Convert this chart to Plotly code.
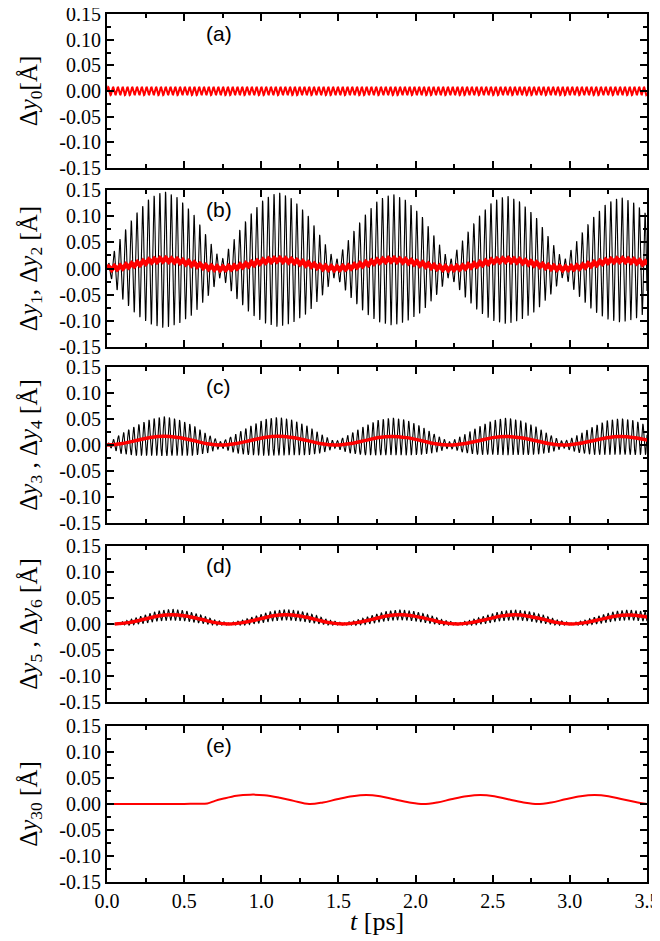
import numpy as np
import plotly.graph_objects as go

# ---------------- axis ticks / labels ----------------
x_ticks = [0.0, 0.5, 1.0, 1.5, 2.0, 2.5, 3.0, 3.5]
x_tick_text = ["0.0", "0.5", "1.0", "1.5", "2.0", "2.5", "3.0", "3.5"]
y_ticks = [-0.15, -0.10, -0.05, 0.0, 0.05, 0.10, 0.15]
y_tick_text = ["-0.15", "-0.10", "-0.05", "0.00", "0.05", "0.10", "0.15"]

panel_labels = ["(a)", "(b)", "(c)", "(d)", "(e)"]
y_titles = [
    "Δ<i>y</i><sub>0</sub>[Å]",
    "Δ<i>y</i><sub>1</sub>, Δ<i>y</i><sub>2</sub> [Å]",
    "Δ<i>y</i><sub>3</sub> , Δ<i>y</i><sub>4</sub> [Å]",
    "Δ<i>y</i><sub>5</sub> , Δ<i>y</i><sub>6</sub> [Å]",
    "Δ<i>y</i><sub>30</sub> [Å]",
]
x_title = "<i>t</i> [ps]"

# ---------------- data ----------------
# panel (a): uniform fast oscillation of Δy0
a_amp = 0.008          # Å
a_period = 0.031       # ps

# envelope knots (ps), every 1/8 of the beat period
t_knot = [0.00, 0.09, 0.19, 0.28, 0.37, 0.46, 0.56, 0.65, 0.74, 0.83, 0.93, 1.02, 1.11,
          1.20, 1.30, 1.39, 1.48, 1.57, 1.67, 1.76, 1.85, 1.94, 2.04, 2.13, 2.22, 2.31,
          2.41, 2.50, 2.59, 2.68, 2.78, 2.87, 2.96, 3.05, 3.15, 3.24, 3.33, 3.42, 3.52]

# panel (b): slow part (red, Δy2) and fast half-amplitude of Δy1 (black)
b_slow = [0.000, 0.0025, 0.0085, 0.0145, 0.0170, 0.0145, 0.0085, 0.0025, 0.000,
          0.0025, 0.0085, 0.0145, 0.0170, 0.0145, 0.0085, 0.0025, 0.000,
          0.0025, 0.0085, 0.0145, 0.0168, 0.0143, 0.0084, 0.0025, 0.000,
          0.0025, 0.0084, 0.0143, 0.0166, 0.0142, 0.0083, 0.0024, 0.000,
          0.0024, 0.0083, 0.0141, 0.0165, 0.0141, 0.0083]
b_amp = [0.004, 0.058, 0.097, 0.121, 0.131, 0.121, 0.096, 0.057, 0.014,
         0.057, 0.095, 0.119, 0.129, 0.119, 0.094, 0.056, 0.014,
         0.055, 0.093, 0.117, 0.126, 0.116, 0.092, 0.055, 0.014,
         0.054, 0.091, 0.114, 0.123, 0.113, 0.090, 0.054, 0.014,
         0.053, 0.089, 0.111, 0.120, 0.111, 0.089]
b_period = 0.037
b_ripple = 0.0035

# panel (c)
c_slow = [0.000, 0.0025, 0.0085, 0.0145, 0.0170, 0.0145, 0.0085, 0.0025, 0.000,
          0.0025, 0.0085, 0.0145, 0.0168, 0.0144, 0.0084, 0.0025, 0.000,
          0.0025, 0.0084, 0.0143, 0.0166, 0.0142, 0.0083, 0.0024, 0.000,
          0.0024, 0.0083, 0.0142, 0.0165, 0.0141, 0.0083, 0.0024, 0.000,
          0.0024, 0.0083, 0.0141, 0.0164, 0.0140, 0.0082]
c_amp = [0.002, 0.019, 0.029, 0.035, 0.038, 0.035, 0.029, 0.018, 0.006,
         0.018, 0.028, 0.035, 0.037, 0.034, 0.028, 0.018, 0.006,
         0.018, 0.028, 0.034, 0.036, 0.034, 0.027, 0.017, 0.006,
         0.017, 0.027, 0.033, 0.036, 0.033, 0.027, 0.017, 0.006,
         0.017, 0.027, 0.033, 0.035, 0.033, 0.027]
c_period = 0.033

# panel (d) (beat slightly delayed)
t_knot_d = [0.05, 0.14, 0.24, 0.33, 0.42, 0.51, 0.61, 0.70, 0.79, 0.88, 0.98, 1.07, 1.16,
            1.25, 1.35, 1.44, 1.53, 1.62, 1.72, 1.81, 1.90, 1.99, 2.09, 2.18, 2.27, 2.36,
            2.46, 2.55, 2.64, 2.73, 2.83, 2.92, 3.01, 3.10, 3.20, 3.29, 3.38, 3.47, 3.57]
d_slow = [0.000, 0.0026, 0.0090, 0.0154, 0.0180, 0.0154, 0.0090, 0.0026, 0.000,
          0.0026, 0.0090, 0.0153, 0.0178, 0.0152, 0.0089, 0.0026, 0.000,
          0.0026, 0.0089, 0.0152, 0.0177, 0.0151, 0.0089, 0.0026, 0.000,
          0.0026, 0.0089, 0.0151, 0.0176, 0.0150, 0.0088, 0.0026, 0.000,
          0.0026, 0.0088, 0.0150, 0.0175, 0.0150, 0.0088]
d_amp = [0.001, 0.005, 0.008, 0.010, 0.011, 0.010, 0.008, 0.005, 0.002,
         0.005, 0.008, 0.010, 0.0105, 0.010, 0.008, 0.005, 0.002,
         0.005, 0.008, 0.0095, 0.010, 0.0095, 0.008, 0.005, 0.002,
         0.005, 0.008, 0.0095, 0.010, 0.0095, 0.008, 0.005, 0.002,
         0.005, 0.008, 0.0095, 0.010, 0.0095, 0.008]
d_period = 0.030

# panel (e): Δy30
e_t = [0.00, 0.50, 0.56, 0.65, 0.70, 0.75, 0.84, 0.93, 1.02, 1.12, 1.21, 1.31, 1.40, 1.49,
       1.59, 1.68, 1.77, 1.86, 1.96, 2.05, 2.14, 2.23, 2.33, 2.42, 2.51, 2.60, 2.70, 2.79,
       2.88, 2.97, 3.07, 3.16, 3.25, 3.34, 3.44, 3.50]
e_y = [0.000, 0.000, 0.0005, 0.001, 0.006, 0.010, 0.016, 0.018, 0.017, 0.012, 0.006, 0.000,
       0.003, 0.009, 0.015, 0.0175, 0.015, 0.009, 0.003, 0.000, 0.003, 0.009, 0.015, 0.0175,
       0.015, 0.009, 0.003, 0.000, 0.003, 0.009, 0.015, 0.0172, 0.015, 0.009, 0.003, 0.000]

# ---------------- build curves ----------------
t = np.linspace(0.0, 3.5, 3501)


def fast(tk, slow, amp, period):
    s = np.interp(t, tk, slow)
    A = np.interp(t, tk, amp)
    return s + A * np.sin(2 * np.pi * t / period)


ya = a_amp * np.sin(2 * np.pi * t / a_period)
yb_black = fast(t_knot, b_slow, b_amp, b_period)
yb_red = np.interp(t, t_knot, b_slow) + b_ripple * np.sin(2 * np.pi * t / b_period)
yc_black = fast(t_knot, c_slow, c_amp, c_period)
yd_black = fast(t_knot_d, d_slow, d_amp, d_period)

RED = "#ff0000"
fig = go.Figure()

traces = [
    (1, t, ya, RED, 2.0, "linear"),
    (2, t, yb_black, "black", 1.1, "linear"),
    (2, t, yb_red, RED, 4.5, "linear"),
    (3, t, yc_black, "black", 1.1, "linear"),
    (3, t_knot, c_slow, RED, 3.5, "spline"),
    (4, t, yd_black, "black", 1.1, "linear"),
    (4, t_knot_d, d_slow, RED, 3.5, "spline"),
    (5, e_t, e_y, RED, 2.0, "spline"),
]
for row, xx, yy, col, w, shape in traces:
    sfx = "" if row == 1 else str(row)
    fig.add_trace(go.Scatter(x=xx, y=yy, mode="lines",
                             line=dict(color=col, width=w, shape=shape),
                             xaxis="x" + sfx, yaxis="y" + sfx, showlegend=False))

domains = [(0.8226, 1.0), (0.6164, 0.7972), (0.4136, 0.5933), (0.2074, 0.3871), (0.0, 0.1797)]

serif = "Liberation Serif"
# the page body adds an 8px offset, so the figure is 8px smaller and margins compensate
layout = dict(
    width=652, height=933,
    margin=dict(l=99, r=13, t=6, b=59, autoexpand=False),
    paper_bgcolor="white", plot_bgcolor="white",
    font=dict(family=serif, size=20, color="black"),
)
annotations = []
for i in range(5):
    sfx = "" if i == 0 else str(i + 1)
    xa = dict(
        domain=[0, 1], range=[0, 3.5], anchor="y" + sfx, automargin=False,
        tickvals=x_ticks, ticktext=x_tick_text, showticklabels=(i == 4),
        ticklabeloverflow="allow",
        ticks="inside", ticklen=7, tickwidth=1.5, tickcolor="black",
        minor=dict(ticks="inside", ticklen=4, tickwidth=1.5, tickcolor="black", dtick=0.25, tick0=0),
        showline=True, linewidth=2, linecolor="black", mirror="ticks",
        showgrid=False, zeroline=False, tickfont=dict(family=serif, size=20, color="black"),
    )
    if i > 0:
        xa["matches"] = "x"
    ya_ = dict(
        domain=list(domains[i]), range=[-0.15, 0.15], anchor="x" + sfx, automargin=False,
        tickvals=y_ticks, ticktext=y_tick_text, ticklabeloverflow="allow",
        ticks="inside", ticklen=7, tickwidth=1.5, tickcolor="black",
        minor=dict(ticks="inside", ticklen=4, tickwidth=1.5, tickcolor="black", dtick=0.025, tick0=0),
        showline=True, linewidth=2, linecolor="black", mirror="ticks",
        showgrid=False, zeroline=False, tickfont=dict(family=serif, size=20, color="black"),
        title=dict(text=y_titles[i], font=dict(family=serif, size=25, color="black"), standoff=15),
    )
    layout["xaxis" + sfx] = xa
    layout["yaxis" + sfx] = ya_
    annotations.append(dict(
        x=0.725, y=0.112, xref="x" + sfx, yref="y" + sfx, text=panel_labels[i],
        showarrow=False, font=dict(family="Liberation Sans", size=21, color="black"),
    ))
annotations.append(dict(
    x=0.5, y=-0.046, xref="paper", yref="paper", text=x_title, showarrow=False,
    xanchor="center", yanchor="middle", font=dict(family=serif, size=26, color="black"),
))
layout["annotations"] = annotations
fig.update_layout(**layout)
fig.write_html("out.html")
